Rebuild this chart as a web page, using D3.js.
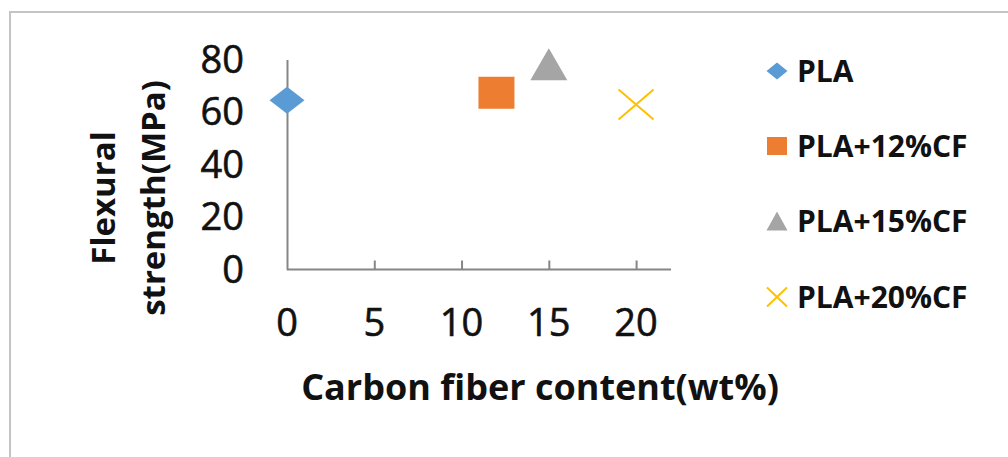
<!DOCTYPE html>
<html><head><meta charset="utf-8">
<script src="https://cdn.jsdelivr.net/npm/d3@7"></script>
<style>
html,body{margin:0;padding:0;background:#fff;}
svg{display:block;}
text{font-family:"Open Sans",sans-serif;fill:#111;}
</style></head>
<body>
<svg id="c" width="1008" height="457"></svg>
<script>
// Data
const seriesNames = ["PLA", "PLA+12%CF", "PLA+15%CF", "PLA+20%CF"];
const fiberContent = [0, 12, 15, 20];
const flexuralStrength = [64.5, 67.3, 78.2, 62.9];
const xTicks = [0, 5, 10, 15, 20];
const yTicks = [0, 20, 40, 60, 80];
const xTitle = "Carbon fiber content(wt%)";
const yTitleLines = ["Flexural", "strength(MPa)"];

const colors = ["#5B9BD5", "#ED7D31", "#A5A5A5", "#FFC000"];
const shapes = ["diamond", "square", "triangle", "x"];

const svg = d3.select("#c");

// frame
svg.append("path").attr("d", "M10,457 L10,12 L1008,12")
  .attr("fill", "none").attr("stroke", "#c4c4c4").attr("stroke-width", 2);

const x = d3.scaleLinear().domain([0, 22]).range([287, 671]);
const y = d3.scaleLinear().domain([0, 80]).range([269.5, 59.5]);

function markerPath(shape, w, h) {
  const p = d3.path();
  const a = w / 2, b = h / 2;
  if (shape === "diamond") { p.moveTo(0, -b); p.lineTo(a, 0); p.lineTo(0, b); p.lineTo(-a, 0); p.closePath(); }
  else if (shape === "square") { p.rect(-a, -b, w, h); }
  else if (shape === "triangle") { p.moveTo(0, -b); p.lineTo(a, b); p.lineTo(-a, b); p.closePath(); }
  else { p.moveTo(-a, -b); p.lineTo(a, b); p.moveTo(a, -b); p.lineTo(-a, b); }
  return p.toString();
}

// axes
const gx = svg.append("g").attr("transform", `translate(0,${y(0)})`)
  .call(d3.axisTop(x).tickValues(xTicks.filter(d => d > 0)).tickSize(9).tickFormat(""));
gx.select(".domain").attr("d", `M${x(0)},0H${x.range()[1]}`);
gx.selectAll("line,path").attr("stroke", "#868686").attr("stroke-width", 2);

const gy = svg.append("g").attr("transform", `translate(${x(0)},0)`)
  .call(d3.axisLeft(y).tickValues(yTicks).tickSize(0).tickFormat(""));
gy.selectAll("line,path").attr("stroke", "#868686").attr("stroke-width", 2);

// tick labels
svg.append("g").selectAll("text").data(xTicks).join("text")
  .attr("x", d => x(d)).attr("y", 323).attr("dy", "0.35em")
  .attr("text-anchor", "middle").attr("font-size", 38)
  .attr("stroke", "#111").attr("stroke-width", 0.6).text(d => d);
svg.append("g").selectAll("text").data(yTicks).join("text")
  .attr("x", 244).attr("y", d => y(d)).attr("dy", "0.35em")
  .attr("text-anchor", "end").attr("font-size", 38)
  .attr("stroke", "#111").attr("stroke-width", 0.6).text(d => d);

// titles
svg.append("text").attr("x", 540).attr("y", 400).attr("text-anchor", "middle")
  .attr("font-size", 36).attr("font-weight", "bold").text(xTitle);
const yt = svg.append("text").attr("transform", "translate(115,198) rotate(-90)")
  .attr("text-anchor", "middle").attr("font-size", 33).attr("font-weight", "bold");
yTitleLines.forEach((t, i) => yt.append("tspan").attr("x", 0).attr("y", i * 50).text(t));

// points
const pts = seriesNames.map((n, i) => ({ name: n, x: fiberContent[i], y: flexuralStrength[i], c: colors[i], s: shapes[i] }));
const bigSize = { diamond: [35, 27], square: [36, 32], triangle: [37, 32], x: [35, 30] };
svg.append("g").selectAll("path").data(pts).join("path")
  .attr("transform", d => `translate(${x(d.x)},${y(d.y)})`)
  .attr("d", d => markerPath(d.s, bigSize[d.s][0], bigSize[d.s][1]))
  .attr("fill", d => d.s === "x" ? "none" : d.c)
  .attr("stroke", d => d.s === "x" ? d.c : "none")
  .attr("stroke-width", 2);

// legend
const legY = [71, 146, 221, 297];
const smallSize = { diamond: [21, 17], square: [20, 18], triangle: [21, 19], x: [20, 19] };
const lg = svg.append("g").selectAll("g").data(pts).join("g")
  .attr("transform", (d, i) => `translate(777,${legY[i]})`);
lg.append("path").attr("d", d => markerPath(d.s, smallSize[d.s][0], smallSize[d.s][1]))
  .attr("fill", d => d.s === "x" ? "none" : d.c)
  .attr("stroke", d => d.s === "x" ? d.c : "none").attr("stroke-width", 2);
lg.append("text").attr("x", 20).attr("dy", "0.36em").attr("font-size", 30)
  .attr("font-weight", "bold").text(d => d.name);
</script>
</body></html>
